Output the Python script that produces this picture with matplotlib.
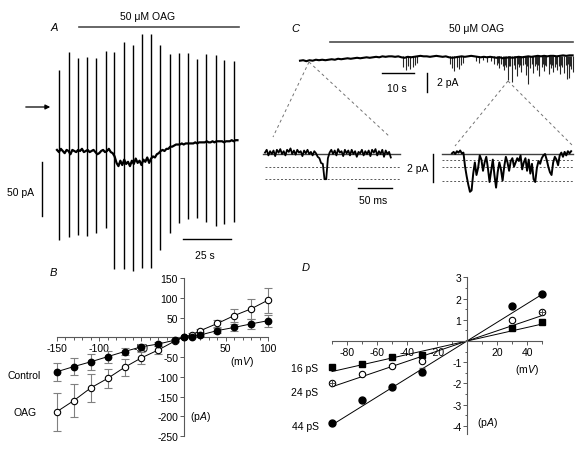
import numpy as np
import matplotlib
matplotlib.use('Agg')
import matplotlib.pyplot as plt
from matplotlib.lines import Line2D

plt.rcParams['font.family'] = ['Liberation Sans', 'DejaVu Sans']
plt.rcParams['mathtext.fontset'] = 'custom'
plt.rcParams['mathtext.rm'] = 'Liberation Sans'
plt.rcParams['mathtext.it'] = 'Liberation Sans:italic'
plt.rcParams['axes.unicode_minus'] = False

# ---- A: whole-cell current, ramps every ~5 s (t in s, I in pA)
spike_t = [1.0, 6.0, 10.9, 15.6, 20.3, 25.3, 29.9, 34.9, 39.6, 44.3,
           49.2, 53.9, 58.6, 63.5, 68.2, 72.9, 77.6, 82.6, 87.2, 92.2]
spike_up = [75, 92, 86, 87, 86, 93, 92, 101, 98, 108,
            108, 98, 90, 91, 91, 85, 90, 89, 84, 83]
spike_dn = [-82, -80, -78, -79, -76, -71, -109, -109, -111, -108,
            -108, -92, -76, -67, -63, -62, -66, -69, -68, -66]
a_base = [1, -1, 2, 0, -2, 1, 0, -3, 1, 0,
          -1, 1, 0, 2, -1, 0, 1, -1, 0, 1,
          -1, -3, -2, 0, 1, -1, 0, 2, -1, -2,
          -5, -11, -14, -9, -13, -8, -12, -10, -14, -9,
          -12, -7, -11, -9, -13, -8, -10, -6, -11, -7,
          -5, -6, -3, -2, 0, 1, 0, 2, 2, 4,
          4, 5, 6, 6, 6, 7, 6, 7, 7, 7,
          7, 7, 8, 7, 8, 8, 8, 8, 9, 8,
          8, 9, 8, 9, 9, 9, 9, 8, 9, 9,
          9, 10, 9, 10, 10]

# ---- C: cell-attached record (t in s, I in pA)
c_base = [0, 0.05, -0.05, 0.05, 0, 0.1, 0.05, 0.1, 0.05, 0.1,
          0.15, 0.1, 0.2, 0.15, 0.2, 0.25, 0.2, 0.25, 0.3, 0.25,
          0.3, 0.35, 0.3, 0.35, 0.4, 0.35, 0.45, 0.4, 0.45, 0.45,
          0.4, 0.45, 0.35, 0.3, 0.4, 0.35, 0.4, 0.45, 0.5, 0.45,
          0.45, 0.4, 0.45, 0.5, 0.45, 0.4, 0.45, 0.35, 0.3, 0.35,
          0.4, 0.45, 0.4, 0.45, 0.5, 0.45, 0.4, 0.35, 0.4, 0.35,
          0.4, 0.35, 0.3, 0.35, 0.25, 0.3, 0.35, 0.3, 0.35, 0.4,
          0.35, 0.4, 0.45, 0.4, 0.45, 0.5, 0.45, 0.5, 0.45, 0.5,
          0.5, 0.45, 0.5, 0.55, 0.5, 0.55, 0.55]
ev_t = [32.6, 33.3, 34.0, 34.8, 35.5, 36.3, 36.9,
        47.4, 48.0, 48.7, 49.4, 50.0, 50.7, 51.3,
        55.5, 56.5, 57.8, 59.0, 60.2, 61.3,
        62.0, 62.4, 62.8, 63.5, 63.9, 64.2, 64.6, 65.0, 65.6, 66.0, 66.3, 67.0,
        67.4, 67.7, 68.4, 68.7, 69.0, 69.4, 69.8, 70.5, 70.9, 71.2, 71.6, 72.0,
        72.4, 72.7, 73.1, 73.4, 74.1, 74.5, 74.8, 75.2, 75.5, 76.2, 76.6, 77.0,
        77.3, 77.7, 78.4, 78.8, 79.1, 79.5, 79.8, 80.5, 80.9, 81.2, 81.6, 82.0,
        82.3, 82.7, 83.4, 83.8, 84.1, 84.5, 84.8, 85.2, 85.5, 86.0]
ev_lo = [-0.6, -1.0, -0.5, -0.9, -0.7, -0.4, -0.2,
         -0.3, -0.8, -1.1, -0.6, -0.9, -0.4, -0.2,
         0.0, -0.2, 0.05, -0.15, 0.0, -0.3,
         -0.4, -0.2, -0.8, -0.3, -0.5, -1.0, -0.4, -0.6, -2.0, -0.5, -0.5, -2.2,
         -0.4, -0.9, -1.6, -0.3, -0.6, -0.4, -1.2, -0.4, -0.3, -1.5, -0.5, -2.4,
         -0.4, -0.8, -0.3, -1.3, -0.5, -0.3, -1.0, -0.4, -1.6, -0.7, -0.3, -1.1,
         -0.4, -0.5, -1.4, -0.3, -0.8, -0.4, -1.2, -0.6, -0.3, -1.0, -0.5, -1.4,
         -0.4, -0.7, -1.3, -0.4, -1.9, -0.3, -1.8, -0.5, -0.9, -1.2]

# insets (t in ms, I in pA)
ins1 = [0.1, 0.3, -0.1, 0.2, 0.0, 0.25, -0.15, 0.3, 0.1, 0.35,
        0.0, 0.2, -0.1, 0.3, 0.15, 0.4, 0.0, 0.25, -0.05, 0.3,
        0.1, 0.2, -0.15, 0.25, 0.05, 0.3, 0.0, 0.15, -0.1, 0.2,
        0.05, -0.2, -0.3, -0.65, -0.7, -1.8, -1.8, -0.3, 0.1, 0.3,
        0.0, 0.25, -0.1, 0.35, 0.1, 0.2, -0.15, 0.3, 0.05, 0.25,
        -0.1, 0.3, 0.0, 0.2, -0.2, 0.15, 0.05, 0.3, -0.1, 0.2,
        0.0, 0.25, -0.15, 0.3, 0.1, 0.35, -0.1, 0.2, 0.0, 0.3,
        -0.2, 0.25, 0.0, 0.15, -0.25]
ins2 = [0.05, 0.15, 0.0, 0.2, 0.1, 0.25, 0.05, 0.1, -0.9, -1.6,
        -2.2, -2.7, -2.6, -1.4, -0.6, -1.5, -1.0, -0.1, -0.4, -1.2,
        -0.6, -0.2, -1.0, -2.0, -1.2, -0.4, -1.5, -2.4, -1.3, -0.6,
        -1.1, -1.9, -0.9, -0.2, -0.6, -1.2, -0.5, -0.3, -0.9, -0.6,
        -0.3, -0.5, -0.1, -1.1, -0.6, -0.3, -1.2, -0.4, -1.4, -0.7,
        -1.8, -2.0, -1.0, -0.5, -0.7, -0.3, -0.1, 0.0, -0.4, -0.9,
        -1.3, -1.5, -0.6, -0.2, -0.4, -0.8, -0.1, 0.1, -0.2, 0.15,
        -0.1, 0.2, 0.05, 0.2]

# ---- B: I-V relation (mV, pA)
b_v = [-150, -130, -110, -90, -70, -50, -30, -10, 0, 10, 20, 40, 60, 80, 100]
b_ctrl = [-87, -74, -62, -49, -36, -24, -17, -7, 0, 2, 6, 17, 25, 34, 42]
b_ctrl_err = [23, 22, 20, 15, 10, 8, 6, 3, 0, 2, 3, 6, 8, 12, 15]
b_oag = [-188, -160, -128, -104, -76, -52, -32, -9, 0, 7, 17, 35, 55, 72, 94]
b_oag_err = [48, 41, 35, 24, 21, 16, 11, 4, 2, 3, 4, 10, 17, 25, 32]

# ---- D: single-channel I-V (mV, pA)
d_v = [-90, -70, -50, -30, 30, 50]
d_16 = [-1.21, -1.08, -0.77, -0.66, 0.60, 0.88]
d_24 = [-1.98, -1.56, -1.16, -0.92, 0.97, 1.37]
d_44 = [-3.87, -2.80, -2.17, -1.45, 1.67, 2.23]
d_44_err = [0.05, 0.08, 0.08, 0.17, 0.05, 0.05]
d_g = [16, 24, 44]
d_g_lab = ['16 pS', '24 pS', '44 pS']
d_fit_v = [-90, 50]

W, H = 585, 452
fig = plt.figure(figsize=(5.85, 4.52), dpi=100)


def px_axes(x0, y0, x1, y1, ox, sx, oy, sy):
    # axes over a pixel box, data mapped as px = ox + sx*x, py = oy - sy*y
    ax = fig.add_axes([x0 / W, 1 - y1 / H, (x1 - x0) / W, (y1 - y0) / H])
    ax.set_xlim((x0 - ox) / sx, (x1 - ox) / sx)
    ax.set_ylim((oy - y1) / sy, (oy - y0) / sy)
    ax.axis('off')
    return ax


def ftext(x, y, s, **kw):
    kw.setdefault('fontsize', 7.5)
    kw.setdefault('ha', 'center')
    kw.setdefault('va', 'center')
    fig.text(x / W, 1 - y / H, s, **kw)


def fline(xs, ys, **kw):
    fig.add_artist(Line2D([x / W for x in xs], [1 - y / H for y in ys],
                          transform=fig.transFigure, **kw))


# ---------------- A
axA = px_axes(0, 0, 250, 282, 57, 1.92, 152, 1.08)
axA.vlines(spike_t, spike_dn, spike_up, color='k', lw=1.0)
axA.plot(np.arange(len(a_base)), a_base, color='k', lw=1.6)
axA.plot([11.5, 95], [114.8, 114.8], color='0.3', lw=1.2)
axA.plot([-7.8, -7.8], [-10.2, -60.2], color='k', lw=1)
axA.plot([65.6, 90.6], [-81.5, -81.5], color='k', lw=1)
ftext(148, 17, '50 μM OAG')
ftext(54, 28, 'A', style='italic', fontsize=8)
ftext(7, 193, '50 pA', ha='left')
ftext(205, 256, '25 s')
fig.add_artist(matplotlib.patches.FancyArrowPatch(
    (23 / W, 1 - 108 / H), (53 / W, 1 - 108 / H), transform=fig.transFigure,
    arrowstyle='-|>', mutation_scale=7, color='k', lw=0.9))

# ---------------- C
axC = px_axes(285, 35, 585, 100, 300, 3.17, 61.7, 9.7)
axC.vlines(ev_t, ev_lo, 0.45, color='0.15', lw=0.8)
axC.plot(np.arange(len(c_base)), c_base, color='k', lw=1.5)
axC.plot([9.5, 86.1], [1.93, 1.93], color='0.3', lw=1.2)
axC.plot([26, 36], [-1.27, -1.27], color='k', lw=1)
axC.plot([40.1, 40.1], [-1.27, -3.23], color='k', lw=1)
ftext(295, 29, 'C', style='italic', fontsize=8)
ftext(477, 29, '50 μM OAG')
ftext(397, 89, '10 s')
ftext(437, 83, '2 pA', ha='left')

dash = dict(color='0.45', lw=0.7, ls=(0, (3, 3)))
fline([309, 273], [63, 138], **dash)
fline([309, 390], [63, 138], **dash)
fline([508, 455], [82, 147], **dash)
fline([508, 573], [82, 147], **dash)

axI1 = px_axes(255, 140, 412, 210, 265, 0.68, 155, 14)
axI1.plot([-3, 198], [0, 0], color='0.25', lw=1.0)
for lev in [-0.95, -1.8]:
    axI1.plot([0, 198], [lev, lev], color='0.35', lw=0.7, ls=(0, (2, 2)))
axI1.plot(np.arange(len(ins1)) * 2.5, ins1, color='k', lw=1.3)
axI1.plot([137, 187], [-2.43, -2.43], color='k', lw=1)
ftext(373, 201, '50 ms')

axI2 = px_axes(420, 140, 585, 210, 452, 0.68, 155, 14)
axI2.plot([-15, 178], [0, 0], color='0.25', lw=1.0)
for lev in [-0.4, -0.95, -1.95]:
    axI2.plot([-15, 178], [lev, lev], color='0.35', lw=0.7, ls=(0, (2, 2)))
axI2.plot(np.arange(len(ins2)) * 2.4, ins2, color='k', lw=1.4)
axI2.plot([-28, -28], [0, -2], color='k', lw=1)
ftext(428, 169, '2 pA', ha='right')


# ---------------- B and D: axes crossing at zero
def cross_axes(box, xlim, ylim):
    x0, y0, x1, y1 = box
    ax = fig.add_axes([x0 / W, 1 - y1 / H, (x1 - x0) / W, (y1 - y0) / H])
    ax.set_xlim(*xlim)
    ax.set_ylim(*ylim)
    ax.patch.set_visible(False)
    for s in ['top', 'right']:
        ax.spines[s].set_visible(False)
    for s in ['left', 'bottom']:
        ax.spines[s].set_position(('data', 0))
        ax.spines[s].set_color('0.35')
        ax.spines[s].set_linewidth(0.8)
    ax.tick_params(which='both', colors='0.35', labelcolor='k', labelsize=7.5,
                   width=0.7, pad=1)
    ax.tick_params(which='major', length=3)
    ax.tick_params(which='minor', length=1.8)
    return ax


axB = cross_axes((48.6, 275.1, 276.4, 443), (-160, 110), (-265, 160))
axB.spines['bottom'].set_bounds(-150, 100)
axB.spines['left'].set_bounds(-250, 150)
axB.set_xticks([-150, -100, -50, 50, 100])
axB.set_xticks(np.arange(-150, 101, 10), minor=True)
axB.set_yticks([-250, -200, -150, -100, -50, 50, 100, 150])
axB.errorbar(b_v, b_ctrl, yerr=b_ctrl_err, fmt='none', ecolor='0.5',
             elinewidth=0.8, capsize=2.8, capthick=0.8, zorder=2)
axB.errorbar(b_v, b_oag, yerr=b_oag_err, fmt='none', ecolor='0.5',
             elinewidth=0.8, capsize=2.8, capthick=0.8, zorder=2)
axB.plot(b_v, b_oag, '-o', color='k', lw=0.7, ms=4.6, mfc='white',
         mec='k', mew=0.8, zorder=3)
axB.plot(b_v, b_ctrl, '-o', color='k', lw=0.7, ms=4.6, mfc='k',
         mec='k', zorder=4)
ftext(53, 273, 'B', style='italic', fontsize=8)
ftext(242, 362, '(m$\\it{V}$)')
ftext(200, 417, '(p$\\it{A}$)')
ftext(24, 376, 'Control')
ftext(25, 413, 'OAG')

axD = cross_axes((324.5, 274.2, 549.5, 439.5), (-95, 55), (-4.6, 3.2))
axD.spines['bottom'].set_bounds(-90, 50)
axD.spines['left'].set_bounds(-4.4, 3)
axD.set_xticks([-80, -60, -40, -20, 20, 40])
axD.set_xticks(np.arange(-90, 51, 10), minor=True)
axD.set_yticks([-4, -3, -2, -1, 1, 2, 3])
axD.set_yticks(np.arange(-4, 3.1, 0.5), minor=True)
for g in d_g:
    axD.plot(d_fit_v, [g * v / 1000 for v in d_fit_v], color='k', lw=0.7,
             zorder=2)
axD.errorbar(d_v, d_44, yerr=d_44_err, fmt='none', ecolor='0.4',
             elinewidth=0.8, capsize=2, zorder=2)
axD.plot(d_v, d_16, 's', color='k', ms=4.2, zorder=3)
axD.plot(d_v, d_24, 'o', ms=4.6, mfc='white', mec='k', mew=0.8, zorder=3)
axD.plot([d_v[0], d_v[-1]], [d_24[0], d_24[-1]], '+', color='0.3', ms=4.6,
         mew=0.7, zorder=4)
axD.plot(d_v, d_44, 'o', color='k', ms=5, zorder=3)
ftext(306, 268, 'D', style='italic', fontsize=8)
ftext(527, 370, '(m$\\it{V}$)')
ftext(487, 423, '(p$\\it{A}$)')
for lab, yy in zip(d_g_lab, [369, 393, 427]):
    ftext(305, yy, lab)

fig.savefig('out.png', dpi=100)
